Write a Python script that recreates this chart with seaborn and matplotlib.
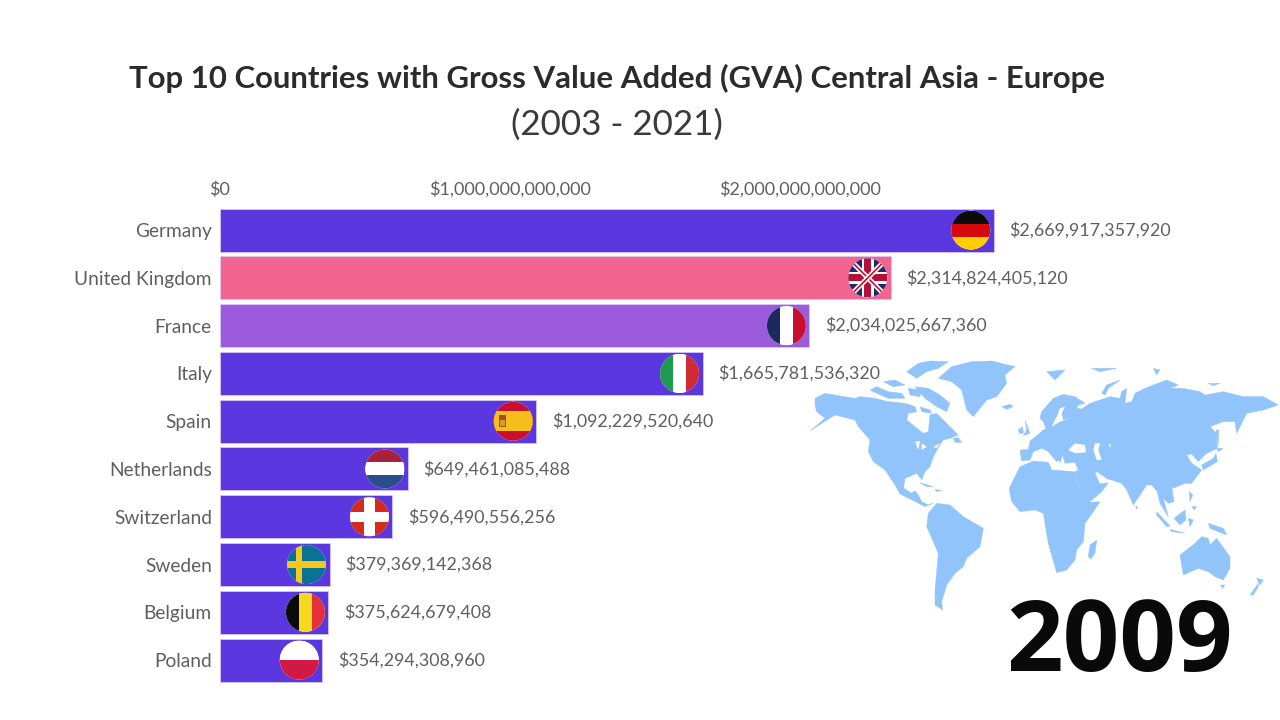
import matplotlib
matplotlib.use("Agg")
import matplotlib.pyplot as plt
from matplotlib.patches import Circle, Rectangle, Polygon
from matplotlib.ticker import FuncFormatter
import pandas as pd
import seaborn as sns

countries = ["Germany", "United Kingdom", "France", "Italy", "Spain",
             "Netherlands", "Switzerland", "Sweden", "Belgium", "Poland"]
values = [2669917357920, 2314824405120, 2034025667360, 1665781536320, 1092229520640,
          649461085488, 596490556256, 379369142368, 375624679408, 354294308960]
bar_colors = ["#5A37DF", "#F26591", "#9C5BDD", "#5A37DF", "#5A37DF",
              "#5A37DF", "#5A37DF", "#5A37DF", "#5A37DF", "#5A37DF"]
tick_values = [0, 1000000000000, 2000000000000]
title_text = "Top 10 Countries with Gross Value Added (GVA) Central Asia - Europe"
subtitle_text = "(2003 - 2021)"
year_text = "2009"

sns.set_theme(style="white")
plt.rcParams["font.family"] = ["Lato", "DejaVu Sans"]

W, H = 1280, 720
fig = plt.figure(figsize=(W / 100, H / 100), dpi=100, facecolor="white")

# World map backdrop: outlines traced in four local frames
A = lambda pts: [(805 + x / 3, 355 + y / 3) for x, y in pts]
B = lambda pts: [(1010 + x / 3, 355 + y / 3) for x, y in pts]
C = lambda pts: [(900 + x / 3, 470 + y / 3) for x, y in pts]
D = lambda pts: [(1100 + x / 3, 470 + y / 3) for x, y in pts]

north_america = (
    A([(30,130),(60,115),(100,122),(150,130),(165,125),(210,130),(250,140),(300,145),(330,155),(335,170),
       (310,175),(305,195),(330,215),(355,235),(370,230),(375,180),(395,175),(420,200),(445,225),(460,240),
       (435,250),(415,255),(405,270),(385,305),(375,335),(360,350),(350,375),(335,355),(300,370),(295,405)])
    + C([(10,40),(12,55),(35,70),(45,62),(55,75),(65,95),(85,105),(100,100),(75,110),(50,97),(20,82),(0,72)])
    + A([(270,390),(240,345),(205,320),(190,290),(195,255),(160,215),(150,195),(110,185),(90,180),(50,205),
         (15,228),(60,190),(35,170),(30,150)])
)
greenland = A([(400,70),(440,35),(500,20),(560,18),(630,35),(600,60),(605,85),(575,125),(545,135),(505,185),
               (485,165),(470,105),(440,80)])
eurasia = (
    B([(30,285),(55,283),(60,258),(85,238),(100,225),(108,222),(100,200),(90,190),(95,170),(130,130),(160,118),
       (195,125),(225,145),(205,150),(200,160),(215,162),(240,145),(270,135),(300,125),(330,130),(335,110),
       (350,100),(345,145),(365,140),(375,115),(405,100),(430,90),(470,75),(505,90),(480,100),(520,100),
       (570,110),(585,120),(640,110),(700,125),(760,125),(805,150),(760,165),(710,175),(680,235),(675,200),
       (640,200),(600,215),(620,235),(622,280),(590,295),(565,320),(545,297),(530,300),(545,325),(575,345),
       (545,385),(525,385),(490,400)])
    + D([(220,55),(215,50),(222,95),(205,100),(190,85),(205,140),(180,100),(172,65),(155,45),(140,45),(110,90),
         (100,105),(80,60),(65,40),(20,25)])
    + C([(645,22),(625,28),(590,5),(585,10),(600,42),(625,38),(605,65),(570,95),(555,88),(525,15),(518,8)])
    + B([(205,345),(195,322),(165,325),(158,300),(150,322),(135,300),(110,268),(150,310),(140,320),(115,290),
         (95,280),(70,290),(60,315),(35,318)])
)
africa = (
    B([(0,395),(30,335),(70,318),(115,322),(125,345),(190,350),(210,400)])
    + C([(545,65),(570,97),(600,95),(580,125),(555,160),(550,215),(530,240),(525,270),(500,300),(470,308),
         (445,220),(430,130),(405,120),(360,125),(335,95),(328,60)])
)
south_america = C([(85,130),(110,100),(150,105),(190,140),(250,175),(240,230),(200,265),(190,290),(165,310),
                   (140,345),(125,395),(128,420),(105,405),(105,360),(115,250),(80,170)])
australia = D([(240,255),(285,220),(305,200),(325,205),(330,225),(350,205),(390,260),(390,295),(370,330),
               (345,320),(325,305),(295,295),(250,315)])
islands = [
    A([(305,50),(340,25),(375,18),(430,20),(400,40),(365,50),(335,70)]),
    A([(330,95),(370,100),(405,120),(435,145),(425,170),(395,155),(360,130)]),
    A([(195,105),(215,95),(250,110),(290,115),(300,130),(250,130),(215,115)]),
    A([(310,100),(350,105),(345,125),(315,120)]),
    A([(235,80),(270,75),(300,90),(265,95)]),
    A([(345,155),(375,165),(380,175),(350,170)]),
    A([(590,155),(615,148),(625,155),(605,163)]),
    A([(445,250),(460,248),(470,262),(450,262)]),
    B([(45,195),(60,235),(40,242),(50,225)]),
    B([(25,225),(38,215),(40,235),(28,235)]),
    B([(275,115),(290,90),(330,75),(295,100),(285,120)]),
    B([(110,50),(165,45),(135,75)]),
    B([(245,40),(320,40),(270,50)]),
    B([(595,85),(630,85),(610,92)]),
    B([(430,40),(450,45),(440,60)]),
    B([(575,330),(610,310),(618,295),(622,320),(580,345)]),
    B([(620,280),(640,280),(625,290)]),
    B([(618,225),(626,225),(625,270)]),
    C([(60,38),(100,50),(80,50)]),
    C([(105,58),(125,62),(110,65)]),
    C([(565,260),(570,225),(590,210),(585,250),(572,267)]),
    D([(362,345),(375,345),(368,355)]),
    D([(450,375),(475,340),(475,350),(460,375)]),
    D([(470,325),(490,330),(480,345)]),
    D([(325,160),(370,175),(380,195),(355,185),(330,175)]),
    D([(222,145),(255,120),(258,150),(240,165)]),
    D([(170,125),(210,168),(200,170),(170,135)]),
    D([(210,178),(255,190),(215,185)]),
    D([(265,145),(280,150),(270,170)]),
    D([(268,65),(278,75),(270,95)]),
    D([(275,110),(290,110),(283,120)]),
    D([(107,108),(113,110),(110,118)]),
]
water = [
    B([(175,285),(195,265),(225,270),(228,292),(195,295)]),
    B([(255,265),(270,265),(265,285),(275,315),(260,315),(250,285)]),
    B([(297,268),(303,268),(300,278)]),
    B([(140,185),(150,160),(165,155),(155,175),(160,195),(190,185),(150,200),(125,215),(135,195)]),
    A([(330,260),(345,258),(340,285)]),
    A([(350,265),(365,275),(350,285)]),
    A([(385,275),(405,265),(395,280)]),
    A([(225,345),(232,345),(255,385),(248,385)]),
]

map_ax = fig.add_axes([0, 0, 1, 1], zorder=0)
map_ax.set_xlim(0, W); map_ax.set_ylim(H, 0); map_ax.axis("off")
for shape in [north_america, greenland, eurasia, africa, south_america, australia] + islands:
    map_ax.add_patch(Polygon(shape, closed=True, fc="#90C4FB", ec="#90C4FB", lw=0.3))
for shape in water:
    map_ax.add_patch(Polygon(shape, closed=True, fc="white", ec="none"))

# Bars
top, bottom, left = 206.2, 684.0, 219.5
right = 1180
ax = fig.add_axes([left / W, 1 - bottom / H, (right - left) / W, (bottom - top) / H], zorder=1)
ax.patch.set_alpha(0)
df = pd.DataFrame({"country": countries, "value": values})
sns.barplot(data=df, y="country", x="value", hue="country", order=countries,
            hue_order=countries, palette=dict(zip(countries, bar_colors)),
            dodge=False, legend=False, width=0.9, saturation=1,
            edgecolor="#D8CEF7", linewidth=0.5, ax=ax)
ax.set_xlim(0, (right - left) / 290 * 1e12)
ax.set_xlabel(""); ax.set_ylabel("")
ax.xaxis.tick_top()
ax.set_xticks(tick_values)
ax.xaxis.set_major_formatter(FuncFormatter(lambda v, _: f"${v:,.0f}"))
ax.tick_params(axis="x", length=0, pad=6, labelsize=13, labelcolor="#5F5F5F")
ax.tick_params(axis="y", length=0, pad=5.5, labelsize=13.8, labelcolor="#5F5F5F")
sns.despine(ax=ax, left=True, bottom=True, top=True, right=True)
for i, v in enumerate(values):
    ax.annotate(f"${v:,.0f}", (v, i), xytext=(11.3, 0), textcoords="offset points",
                va="center", ha="left", fontsize=12.9, color="#5F5F5F")

# Flags and overlay text
ov = fig.add_axes([0, 0, 1, 1], zorder=2)
ov.set_xlim(0, W); ov.set_ylim(H, 0); ov.axis("off")
R = 19.5
fig.canvas.draw()

def flag(country, painter):
    i = countries.index(country)
    px, py = ax.transData.transform((values[i], i))
    cx, cy = px - 23, H - py
    clip = Circle((cx, cy), R, transform=ov.transData, fc="white", ec="none")
    ov.add_patch(clip)
    def rect(u, v, w, h, color):
        p = Rectangle((cx + u * R, cy + v * R), w * R, h * R, fc=color, ec="none")
        ov.add_patch(p); p.set_clip_path(clip)
    def line(u0, v0, u1, v1, color, lw):
        l, = ov.plot([cx + u0 * R, cx + u1 * R], [cy + v0 * R, cy + v1 * R], color=color, lw=lw, solid_capstyle="butt")
        l.set_clip_path(clip)
    painter(rect, line)

def hstripes(*cols):
    def p(rect, line):
        n = len(cols)
        for k, c in enumerate(cols):
            rect(-1, -1 + 2 * k / n, 2, 2 / n + 0.02, c)
    return p

def vstripes(*cols):
    def p(rect, line):
        n = len(cols)
        for k, c in enumerate(cols):
            rect(-1 + 2 * k / n, -1, 2 / n + 0.02, 2, c)
    return p

def uk(rect, line):
    rect(-1, -1, 2, 2, "#1E2A6B")
    for s in (1, -1):
        line(-1, -s, 1, s, "white", 3.6)
        line(-1, -s, 1, s, "#C8102E", 1.2)
    rect(-1, -0.3, 2, 0.6, "white"); rect(-0.3, -1, 0.6, 2, "white")
    rect(-1, -0.18, 2, 0.36, "#B5103A"); rect(-0.18, -1, 0.36, 2, "#B5103A")

def spain(rect, line):
    rect(-1, -1, 2, 2, "#C8102E"); rect(-1, -0.5, 2, 1, "#F6BE18")
    rect(-0.72, -0.3, 0.36, 0.6, "#B5452A"); rect(-0.66, -0.06, 0.24, 0.3, "#C9A227")

def swiss(rect, line):
    rect(-1, -1, 2, 2, "#D52B1E")
    rect(-1, -0.27, 2, 0.54, "white"); rect(-0.27, -1, 0.54, 2, "white")

def sweden(rect, line):
    rect(-1, -1, 2, 2, "#0B7195")
    rect(-1, -0.17, 2, 0.34, "#F4C81E"); rect(-0.55, -1, 0.34, 2, "#F4C81E")

flag("Germany", hstripes("#0B0B0B", "#D60A0A", "#FFCE00"))
flag("United Kingdom", uk)
flag("France", vstripes("#1B2A5E", "#FFFFFF", "#C8102E"))
flag("Italy", vstripes("#1E9A50", "#FFFFFF", "#CE2B37"))
flag("Spain", spain)
flag("Netherlands", hstripes("#A9203A", "#FFFFFF", "#2A4E8C"))
flag("Switzerland", swiss)
flag("Sweden", sweden)
flag("Belgium", vstripes("#0B0B0B", "#F8D81E", "#E3303A"))
flag("Poland", hstripes("#FFFFFF", "#D01A45"))

ov.text(617, 78, title_text, ha="center", va="center", fontsize=22.4, fontweight="bold", color="#2B2B2B")
ov.text(617, 125, subtitle_text, ha="center", va="center", fontsize=25.2, color="#3A3A3A")
ov.text(1120, 645, year_text, ha="center", va="center", fontsize=71.5, fontweight="bold", color="#0A0A0A",
        family=["Open Sans", "DejaVu Sans"])

fig.savefig("out.png", dpi=100, facecolor="white")
